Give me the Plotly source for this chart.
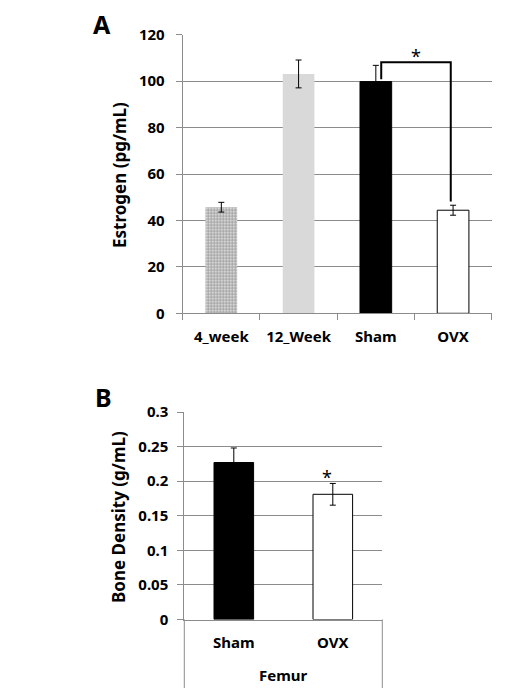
import plotly.graph_objects as go

# ---- data (A) ----
cats_a = ["4_week", "12_Week", "Sham", "OVX"]
estrogen = [45.7, 103.1, 99.8, 44.4]
estrogen_err = [2.1, 6.0, 7.0, 2.15]
a_ticks = [0, 20, 40, 60, 80, 100, 120]

# ---- data (B) ----
cats_b = ["Sham", "OVX"]
density = [0.227, 0.181]
density_err = [0.021, 0.0157]
b_ticks = [0, 0.05, 0.1, 0.15, 0.2, 0.25, 0.3]
b_ticktext = ["0", "0.05", "0.1", "0.15", "0.2", "0.25", "0.3"]

GRID = "#8c8c8c"
FONT = "Noto Sans"
W, H = 531, 695

fig = go.Figure()

fig.add_trace(go.Bar(
    x=cats_a, y=estrogen, width=0.41,
    marker=dict(
        color=["white", "#d9d9d9", "black", "white"],
        line=dict(color=["rgba(0,0,0,0)", "rgba(0,0,0,0)", "black", "black"], width=1),
        pattern=dict(shape=[".", "", "", ""], fgcolor="black", bgcolor="white",
                     size=3, solidity=0.7, fillmode="overlay"),
    ),
    error_y=dict(type="data", array=estrogen_err, color="black", thickness=1, width=3),
    xaxis="x", yaxis="y", showlegend=False,
))

fig.add_trace(go.Bar(
    x=cats_b, y=density, width=0.4,
    marker=dict(color=["black", "white"], line=dict(color="black", width=1)),
    error_y=dict(type="data", array=density_err, color="black", thickness=1, width=3),
    xaxis="x2", yaxis="y2", showlegend=False,
))

tickfont = dict(family=FONT, size=15, color="black", weight="bold")

# plot areas in pixels
ax = (182.7, 491.7); ay = (34.7, 313.3)
bx = (184.3, 382.3); by = (412.0, 619.5)

def dx(p):
    return p / W

def dy(p):
    return 1 - p / H

common = dict(automargin=False, tickfont=tickfont, showline=True, linecolor=GRID, linewidth=1)

fig.update_layout(
    width=W, height=H, margin=dict(l=0, r=0, t=0, b=0, autoexpand=False),
    paper_bgcolor="white", plot_bgcolor="white",
    xaxis=dict(domain=[dx(ax[0]), dx(ax[1])], anchor="y", type="category",
               tickson="boundaries", ticks="outside", ticklen=6, tickcolor=GRID,
               showgrid=False, ticklabelstandoff=10, **common),
    yaxis=dict(domain=[dy(ay[1]), dy(ay[0])], anchor="x", range=[0, 120],
               tickvals=a_ticks, ticks="outside", ticklen=6, tickcolor=GRID,
               showgrid=True, gridcolor=GRID, gridwidth=1, zeroline=False,
               ticklabelstandoff=8, **common),
    xaxis2=dict(domain=[dx(bx[0]), dx(bx[1])], anchor="y2", type="category",
                ticks="", showgrid=False, ticklabelstandoff=9, **common),
    yaxis2=dict(domain=[dy(by[1]), dy(by[0])], anchor="x2", range=[0, 0.3],
                tickvals=b_ticks, ticktext=b_ticktext, ticks="outside", ticklen=6,
                tickcolor=GRID, showgrid=True, gridcolor=GRID, gridwidth=1, zeroline=False,
                ticklabelstandoff=6, **common),
)

def note(text, x, y, font, angle=0):
    fig.add_annotation(text=text, textangle=angle, x=dx(x), y=dy(y), xref="paper", yref="paper",
                       xanchor="center", yanchor="middle", showarrow=False, font=font)

titlefont = dict(family=FONT, size=17, color="black", weight="bold")
note("Estrogen (pg/mL)", 119, 175, titlefont, -90)
note("Bone Density (g/mL)", 118, 517, titlefont, -90)
note("Femur", (bx[0] + bx[1]) / 2, 675, tickfont)

labfont = dict(family=FONT, size=25, color="black", weight="bold")
note("A", 102, 24, labfont)
note("B", 103.5, 397, labfont)

# significance bracket A (Sham vs OVX)
i_s, i_o = cats_a.index("Sham"), cats_a.index("OVX")
top = estrogen[i_s] + estrogen_err[i_s] + 1.3
xl, xr = i_s + 0.07, i_o - 0.03
fig.add_shape(type="path", xref="x", yref="y",
              path=f"M {xl} {estrogen[i_s] + 1} L {xl} {top} L {xr} {top} "
                   f"L {xr} {estrogen[i_o] + estrogen_err[i_o] + 1.6}",
              line=dict(color="black", width=2))
starfont = dict(family=FONT, size=18, color="black")
fig.add_annotation(text="*", x=(xl + xr) / 2, y=top, xref="x", yref="y",
                   yanchor="bottom", showarrow=False, font=starfont, yshift=-8)
fig.add_annotation(text="*", x=1 - 0.06, y=density[1] + density_err[1], xref="x2", yref="y2",
                   yanchor="bottom", showarrow=False, font=starfont, yshift=-8)

# category box below B
for xe in (0, 1):
    fig.add_shape(type="line", xref="x2 domain", yref="y2 domain",
                  x0=xe, x1=xe, y0=0, y1=-(688 - by[1]) / (by[1] - by[0]),
                  line=dict(color=GRID, width=1))

fig.write_html("out.html", config={"displayModeBar": False},
               post_script="document.body.style.margin='0';")
